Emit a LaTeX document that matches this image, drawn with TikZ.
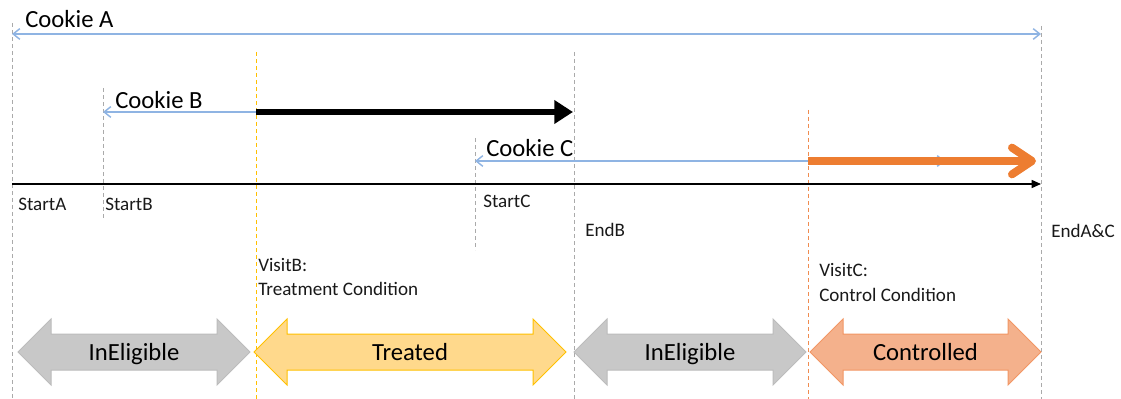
\documentclass[tikz,border=0pt]{standalone}
\usepackage{fontspec}
\setmainfont{Carlito}
\usetikzlibrary{arrows.meta}
\definecolor{cblue}{RGB}{143,180,227}
\definecolor{guidegray}{RGB}{170,170,170}
\definecolor{guideyel}{RGB}{255,192,0}
\definecolor{guideora}{RGB}{240,140,80}
\definecolor{orarrow}{RGB}{237,125,49}
\definecolor{gfill}{RGB}{200,200,200}
\definecolor{gline}{RGB}{188,188,188}
\definecolor{yfill}{RGB}{255,217,140}
\definecolor{yline}{RGB}{255,192,0}
\definecolor{ofill}{RGB}{244,177,140}
\definecolor{oline}{RGB}{242,150,100}
\newcommand{\dblarr}[5]{%
  \path[#4] (#2,352) -- (#2+33,319) -- (#2+33,334) -- (#3-33,334) -- (#3-33,319)
    -- (#3,352) -- (#3-33,385) -- (#3-33,370) -- (#2+33,370) -- (#2+33,385) -- cycle;
  \node[bigtxt, anchor=base] (#1) at ({(#2+#3)/2},360) {#5};}
\begin{document}
\begin{tikzpicture}[x=0.75pt,y=-0.75pt,
  bigtxt/.style={inner sep=0pt, font=\fontsize{18.5}{22}\selectfont},
  smalltxt/.style={inner sep=0pt, anchor=base west, font=\fontsize{14.3}{18}\selectfont, text=black!90},
  gdash/.style={draw=guidegray, line width=0.75pt, dash pattern=on 3pt off 2.25pt},
  ydash/.style={draw=guideyel, line width=0.75pt, dash pattern=on 3pt off 2.25pt},
  odash/.style={draw=guideora, line width=0.75pt, dash pattern=on 3pt off 2.25pt},
  cookie/.style={draw=cblue, line width=1.1pt},
  barb/.tip={Straight Barb[length=5pt,width=8pt]},
  grayarr/.style={fill=gfill, draw=gline, line width=0.75pt},
  yelarr/.style={fill=yfill, draw=yline, line width=0.75pt},
  orarr/.style={fill=ofill, draw=oline, line width=0.75pt}]
\useasboundingbox (0,0) rectangle (1121,399);
% dashed guide lines
\coordinate (gA1) at (12,23);   \coordinate (gA2) at (12,399);
\coordinate (gB1) at (103,88);  \coordinate (gB2) at (103,218);
\coordinate (gV1) at (256,52);  \coordinate (gV2) at (256,399);
\coordinate (gC1) at (475,138); \coordinate (gC2) at (475,250);
\coordinate (gE1) at (574,52);  \coordinate (gE2) at (574,399);
\coordinate (gW1) at (808,110); \coordinate (gW2) at (808,399);
\coordinate (gZ1) at (1041,26); \coordinate (gZ2) at (1041,399);
\draw[gdash] (gA1) -- (gA2);
\draw[gdash] (gB1) -- (gB2);
\draw[ydash] (gV1) -- (gV2);
\draw[gdash] (gC1) -- (gC2);
\draw[gdash] (gE1) -- (gE2);
\draw[odash] (gW1) -- (gW2);
\draw[gdash] (gZ1) -- (gZ2);
% cookie A
\coordinate (a1) at (12,34); \coordinate (a2) at (1041,34);
\draw[cookie, barb-barb] (a1) -- (a2);
\node[bigtxt, anchor=base west] (cA) at (25,28) {Cookie A};
% cookie B
\coordinate (b1) at (103,112); \coordinate (b2) at (256,112); \coordinate (b3) at (573,112);
\draw[cookie, barb-] (b1) -- (b2);
\draw[line width=5pt, -{Triangle[length=14pt,width=17pt]}] (b2) -- (b3);
\node[bigtxt, anchor=base west] (cB) at (115,109) {Cookie B};
% cookie C
\coordinate (c1) at (475,161); \coordinate (c2) at (945,161);
\coordinate (c3) at (808,161); \coordinate (c4) at (1036,161);
\draw[cookie, barb-barb] (c1) -- (c2);
\draw[orarrow, line width=6pt, -{Straight Barb[length=15pt,width=20pt,round]}] (c3) -- (c4);
\node[bigtxt, anchor=base west] (cC) at (486,157) {Cookie C};
% timeline
\coordinate (t1) at (12,184); \coordinate (t2) at (1041,184);
\draw[line width=1.1pt, -{Triangle[length=7pt,width=6pt]}] (t1) -- (t2);
\node[smalltxt] (sA) at (18,210) {StartA};
\node[smalltxt] (sB) at (105,210) {StartB};
\node[smalltxt] (sC) at (483,208) {StartC};
\node[smalltxt] (eB) at (585,237) {EndB};
\node[smalltxt] (eAC) at (1051,238) {EndA\&C};
\node[smalltxt] (vB1) at (258,271) {VisitB:};
\node[smalltxt] (vB2) at (258,295) {Treatment Condition};
\node[smalltxt] (vC1) at (819,276) {VisitC:};
\node[smalltxt] (vC2) at (819,301) {Control Condition};
% state arrows
\dblarr{ine1}{18}{250}{grayarr}{InEligible}
\dblarr{trt}{254}{566}{yelarr}{Treated}
\dblarr{ine2}{574}{806}{grayarr}{InEligible}
\dblarr{ctl}{810}{1041}{orarr}{Controlled}
\end{tikzpicture}
\end{document}
